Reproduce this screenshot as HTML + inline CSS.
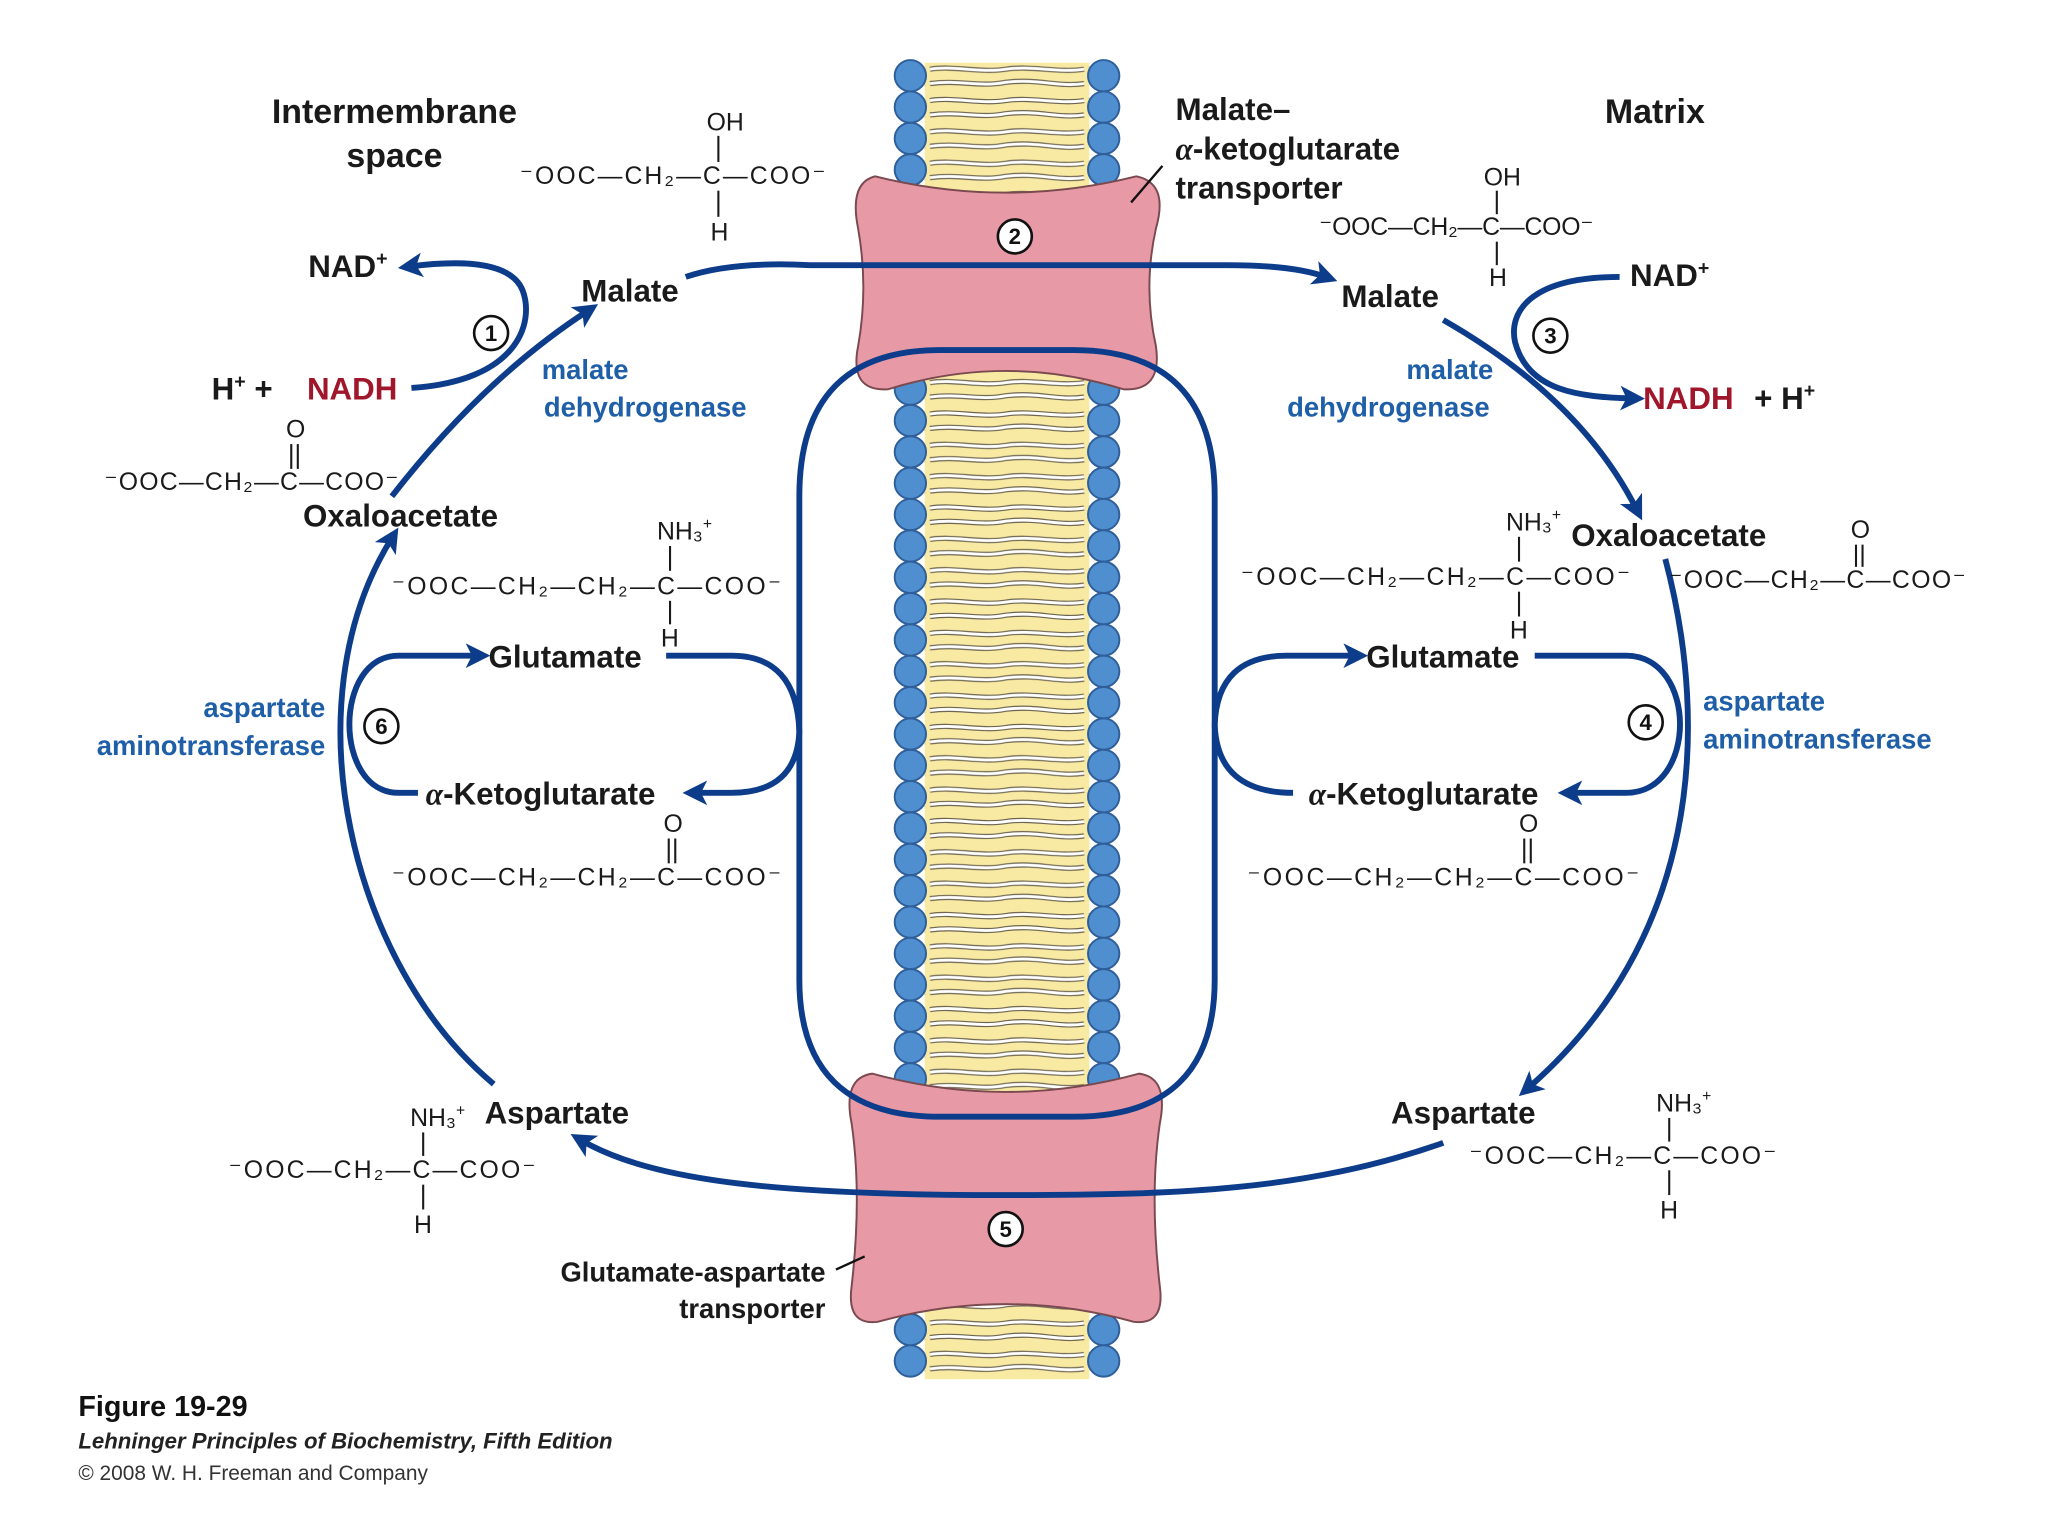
<!DOCTYPE html>
<html><head><meta charset="utf-8"><style>
html,body{margin:0;padding:0;background:#fff}
svg{display:block}
text{font-family:"Liberation Sans","DejaVu Sans",sans-serif}
.b{font-weight:bold;font-size:24px;fill:#1a1a1a}
.e{font-weight:bold;font-size:21px;fill:#1f5fa8}
.r{font-weight:bold;font-size:24px;fill:#a0162a}
.c{font-size:19px;fill:#1a1a1a}
.ar{fill:none;stroke:#0d3d8a;stroke-width:4.5}
.bd{stroke:#1a1a1a;stroke-width:1.6}
.n{font-weight:bold;font-size:17px;fill:#111;text-anchor:middle}
</style></head><body>
<svg width="2048" height="1536" viewBox="0 0 1568 1176" xmlns="http://www.w3.org/2000/svg">
<defs>
<marker id="a" viewBox="0 0 10 10" refX="5" refY="5" markerWidth="4.2" markerHeight="4.2" orient="auto" markerUnits="strokeWidth">
<path d="M0,0 L10,5 L0,10 L2.5,5 Z" fill="#0d3d8a"/></marker>
<pattern id="lip" x="710" y="0" width="122" height="24" patternUnits="userSpaceOnUse">
<rect width="122" height="24" fill="#f8eaa2"/>
<path d="M2,5 C20,2 40,8 60,5 C80,2 100,8 120,5 M2,16 C25,13 40,19 60,15 C85,12 100,19 120,16" fill="none" stroke="#6b6350" stroke-width="4"/>
<path d="M2,5 C20,2 40,8 60,5 C80,2 100,8 120,5 M2,16 C25,13 40,19 60,15 C85,12 100,19 120,16" fill="none" stroke="#fff" stroke-width="2.2"/>
</pattern>
</defs>

<rect x="708" y="48" width="126" height="1008" fill="url(#lip)"/>
<g fill="#4f8fd0" stroke="#2f5f9a" stroke-width="1.5">
<g id="col">
<circle cx="697" cy="58" r="12"/><circle cx="697" cy="82" r="12"/><circle cx="697" cy="106" r="12"/><circle cx="697" cy="130" r="12"/>
<circle cx="697" cy="298" r="12"/><circle cx="697" cy="322" r="12"/><circle cx="697" cy="346" r="12"/><circle cx="697" cy="370" r="12"/><circle cx="697" cy="394" r="12"/><circle cx="697" cy="418" r="12"/><circle cx="697" cy="442" r="12"/><circle cx="697" cy="466" r="12"/><circle cx="697" cy="490" r="12"/><circle cx="697" cy="514" r="12"/><circle cx="697" cy="538" r="12"/><circle cx="697" cy="562" r="12"/><circle cx="697" cy="586" r="12"/><circle cx="697" cy="610" r="12"/><circle cx="697" cy="634" r="12"/><circle cx="697" cy="658" r="12"/><circle cx="697" cy="682" r="12"/><circle cx="697" cy="706" r="12"/><circle cx="697" cy="730" r="12"/><circle cx="697" cy="754" r="12"/><circle cx="697" cy="778" r="12"/><circle cx="697" cy="802" r="12"/><circle cx="697" cy="826" r="12"/>
<circle cx="697" cy="970" r="12"/><circle cx="697" cy="994" r="12"/><circle cx="697" cy="1018" r="12"/><circle cx="697" cy="1042" r="12"/>
</g>
<use href="#col" x="148"/>
</g>
<path d="M670,135 Q770,160 870,135 Q895,140 885,175 Q875,220 885,265 Q890,300 860,298 Q770,270 680,298 Q650,300 657,265 Q665,220 657,175 Q650,140 670,135 Z" fill="#e79aa6" stroke="#7a4a50" stroke-width="1.5"/>
<path d="M668,822 Q770,850 872,822 Q895,825 888,860 Q880,915 888,985 Q892,1015 868,1012 Q770,985 672,1012 Q648,1015 652,985 Q660,915 652,860 Q645,825 668,822 Z" fill="#e79aa6" stroke="#7a4a50" stroke-width="1.5"/>
<line x1="866" y1="155" x2="890" y2="127" stroke="#111" stroke-width="1.8"/>
<line x1="640" y1="972" x2="662" y2="962" stroke="#111" stroke-width="1.8"/>

<path class="ar" d="M720,268 L822,268 Q930,268 930,380 L930,750 Q930,855 822,855 L720,855 Q612,855 612,750 L612,380 Q612,268 720,268 Z"/>
<path class="ar" d="M510,502 L560,502 Q610,502 612,560"/>
<path class="ar" marker-end="url(#a)" d="M612,560 Q610,607 560,607 L532,607"/>
<path class="ar" marker-end="url(#a)" d="M930,555 Q932,502 985,502 L1038,502"/>
<path class="ar" d="M990,607 Q932,607 930,555"/>

<path class="ar" marker-end="url(#a)" d="M525,212 Q560,200 620,203 L940,203 Q990,203 1015,212"/>
<path class="ar" marker-end="url(#a)" d="M300,380 Q370,290 450,238"/>
<path class="ar" marker-end="url(#a)" d="M315,297 C395,292 410,248 400,222 C390,198 345,200 314,204"/>
<path class="ar" marker-end="url(#a)" d="M1105,245 Q1210,305 1253,390"/>
<path class="ar" marker-end="url(#a)" d="M1240,212 C1170,212 1155,240 1160,262 C1170,300 1210,304 1250,305"/>
<path class="ar" marker-end="url(#a)" d="M1275,428 C1310,560 1300,720 1170,833"/>
<path class="ar" marker-end="url(#a)" d="M1175,502 L1245,502 C1300,502 1300,607 1245,607 L1202,607"/>
<path class="ar" marker-end="url(#a)" d="M1105,875 C1000,912 900,915 770,915 C600,915 500,905 445,873"/>
<path class="ar" marker-end="url(#a)" d="M378,830 C270,740 220,540 300,412"/>
<path class="ar" marker-end="url(#a)" d="M320,607 L305,607 C255,607 255,502 305,502 L366,502"/>

<g fill="#fff" stroke="#111" stroke-width="2">
<circle cx="376" cy="255" r="13"/><circle cx="777" cy="181" r="13"/><circle cx="1187" cy="257" r="13"/>
<circle cx="1260" cy="553" r="13"/><circle cx="770" cy="941" r="13"/><circle cx="292" cy="556" r="13"/>
</g>
<text class="n" x="376" y="261">1</text><text class="n" x="777" y="187">2</text><text class="n" x="1187" y="263">3</text>
<text class="n" x="1260" y="559">4</text><text class="n" x="770" y="947">5</text><text class="n" x="292" y="562">6</text>

<text class="b" x="302" y="94" text-anchor="middle" style="font-size:26px">Intermembrane</text>
<text class="b" x="302" y="128" text-anchor="middle" style="font-size:26px">space</text>
<text class="b" x="1267" y="94" text-anchor="middle" style="font-size:26px">Matrix</text>
<text class="b" x="900" y="92">Malate–</text>
<text class="b" x="900" y="122"><tspan font-style="italic" font-family="Liberation Serif">α</tspan>-ketoglutarate</text>
<text class="b" x="900" y="152">transporter</text>

<text class="b" x="445" y="231">Malate</text>
<text class="b" x="1027" y="235">Malate</text>
<text class="b" x="236" y="212">NAD<tspan dy="-9" font-size="15">+</tspan></text>
<text class="b" x="1248" y="219">NAD<tspan dy="-9" font-size="15">+</tspan></text>
<text class="b" x="162" y="306">H<tspan dy="-9" font-size="15">+</tspan><tspan dy="9"> + </tspan></text>
<text class="r" x="235" y="306">NADH</text>
<text class="r" x="1258" y="313">NADH</text>
<text class="b" x="1343" y="313">+ H<tspan dy="-9" font-size="15">+</tspan></text>
<text class="e" x="448" y="290" text-anchor="middle">malate</text>
<text class="e" x="494" y="319" text-anchor="middle">dehydrogenase</text>
<text class="e" x="1110" y="290" text-anchor="middle">malate</text>
<text class="e" x="1063" y="319" text-anchor="middle">dehydrogenase</text>
<text class="e" x="249" y="549" text-anchor="end">aspartate</text>
<text class="e" x="249" y="578" text-anchor="end">aminotransferase</text>
<text class="e" x="1304" y="544">aspartate</text>
<text class="e" x="1304" y="573">aminotransferase</text>
<text class="b" x="232" y="403">Oxaloacetate</text>
<text class="b" x="1203" y="418">Oxaloacetate</text>
<text class="b" x="374" y="511">Glutamate</text>
<text class="b" x="1046" y="511">Glutamate</text>
<text class="b" x="326" y="616"><tspan font-style="italic" font-family="Liberation Serif">α</tspan>-Ketoglutarate</text>
<text class="b" x="1002" y="616"><tspan font-style="italic" font-family="Liberation Serif">α</tspan>-Ketoglutarate</text>
<text class="b" x="371" y="860">Aspartate</text>
<text class="b" x="1065" y="860">Aspartate</text>
<text class="b" x="632" y="981" text-anchor="end" style="font-size:21px">Glutamate-aspartate</text>
<text class="b" x="632" y="1009" text-anchor="end" style="font-size:21px">transporter</text>

<g>
<text class="c" x="398" y="141" textLength="234" lengthAdjust="spacing">⁻OOC—CH₂—C—COO⁻</text>
<text class="c" x="541" y="100">OH</text><line class="bd" x1="550" y1="104" x2="550" y2="124"/><line class="bd" x1="550" y1="146" x2="550" y2="166"/><text class="c" x="544" y="184">H</text>
<text class="c" x="1010" y="180" textLength="210" lengthAdjust="spacing">⁻OOC—CH₂—C—COO⁻</text>
<text class="c" x="1136" y="142">OH</text><line class="bd" x1="1146" y1="146" x2="1146" y2="164"/><line class="bd" x1="1146" y1="185" x2="1146" y2="203"/><text class="c" x="1140" y="219">H</text>
<text class="c" x="80" y="375" textLength="225" lengthAdjust="spacing">⁻OOC—CH₂—C—COO⁻</text>
<text class="c" x="219" y="335">O</text><line class="bd" x1="223" y1="340" x2="223" y2="359"/><line class="bd" x1="228" y1="340" x2="228" y2="359"/>
<text class="c" x="1278" y="450" textLength="227" lengthAdjust="spacing">⁻OOC—CH₂—C—COO⁻</text>
<text class="c" x="1417" y="412">O</text><line class="bd" x1="1421" y1="417" x2="1421" y2="434"/><line class="bd" x1="1426" y1="417" x2="1426" y2="434"/>
<text class="c" x="300" y="455" textLength="298" lengthAdjust="spacing">⁻OOC—CH₂—CH₂—C—COO⁻</text>
<text class="c" x="503" y="413">NH₃<tspan dy="-8" font-size="12">+</tspan></text><line class="bd" x1="513" y1="418" x2="513" y2="437"/><line class="bd" x1="513" y1="460" x2="513" y2="478"/><text class="c" x="506" y="495">H</text>
<text class="c" x="950" y="448" textLength="298" lengthAdjust="spacing">⁻OOC—CH₂—CH₂—C—COO⁻</text>
<text class="c" x="1153" y="406">NH₃<tspan dy="-8" font-size="12">+</tspan></text><line class="bd" x1="1163" y1="411" x2="1163" y2="430"/><line class="bd" x1="1163" y1="453" x2="1163" y2="472"/><text class="c" x="1156" y="489">H</text>
<text class="c" x="300" y="678" textLength="298" lengthAdjust="spacing">⁻OOC—CH₂—CH₂—C—COO⁻</text>
<text class="c" x="508" y="637">O</text><line class="bd" x1="512" y1="642" x2="512" y2="661"/><line class="bd" x1="517" y1="642" x2="517" y2="661"/>
<text class="c" x="955" y="678" textLength="300" lengthAdjust="spacing">⁻OOC—CH₂—CH₂—C—COO⁻</text>
<text class="c" x="1163" y="637">O</text><line class="bd" x1="1167" y1="642" x2="1167" y2="661"/><line class="bd" x1="1172" y1="642" x2="1172" y2="661"/>
<text class="c" x="175" y="902" textLength="235" lengthAdjust="spacing">⁻OOC—CH₂—C—COO⁻</text>
<text class="c" x="314" y="862">NH₃<tspan dy="-8" font-size="12">+</tspan></text><line class="bd" x1="324" y1="867" x2="324" y2="885"/><line class="bd" x1="324" y1="907" x2="324" y2="926"/><text class="c" x="317" y="944">H</text>
<text class="c" x="1125" y="891" textLength="235" lengthAdjust="spacing">⁻OOC—CH₂—C—COO⁻</text>
<text class="c" x="1268" y="851">NH₃<tspan dy="-8" font-size="12">+</tspan></text><line class="bd" x1="1278" y1="856" x2="1278" y2="874"/><line class="bd" x1="1278" y1="896" x2="1278" y2="915"/><text class="c" x="1271" y="933">H</text>
</g>

<text x="60" y="1084" style="font-weight:bold;font-size:22px;fill:#111">Figure 19-29</text>
<text x="60" y="1109" style="font-weight:bold;font-style:italic;font-size:17px;fill:#222">Lehninger Principles of Biochemistry, Fifth Edition</text>
<text x="60" y="1133" style="font-size:16px;fill:#333">© 2008 W. H. Freeman and Company</text>
</svg>
</body></html>
